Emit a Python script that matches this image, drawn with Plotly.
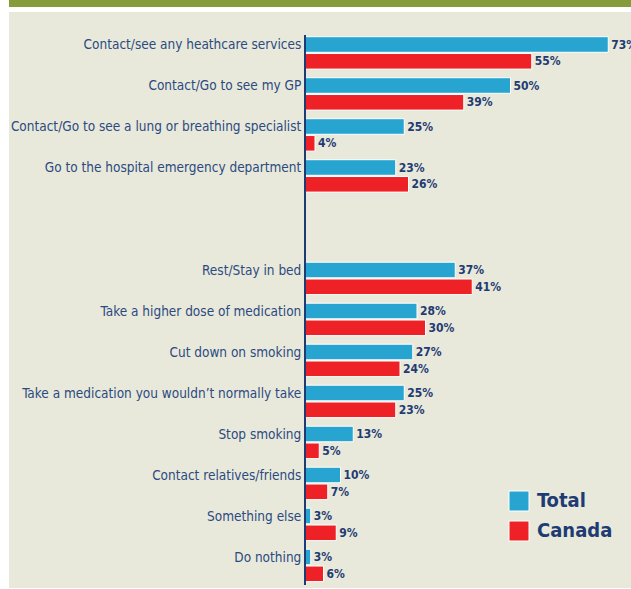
import plotly.graph_objects as go

categories = [
    "Contact/see any heathcare services",
    "Contact/Go to see my GP",
    "Contact/Go to see a lung or breathing specialist",
    "Go to the hospital emergency department",
    "Rest/Stay in bed",
    "Take a higher dose of medication",
    "Cut down on smoking",
    "Take a medication you wouldn\u2019t normally take",
    "Stop smoking",
    "Contact relatives/friends",
    "Something else",
    "Do nothing",
]
total = [73, 50, 25, 23, 37, 28, 27, 25, 13, 10, 3, 3]
canada = [55, 39, 4, 26, 41, 30, 24, 23, 5, 7, 9, 6]
series_names = ["Total", "Canada"]

# layout constants
W, H = 631, 589
ML, MR, MT, MB = 306, 0, 35, 4
GROUP_GAP = 1.5  # extra empty slots between the two groups
positions = [i if i < 4 else i + GROUP_GAP for i in range(len(categories))]

BLUE = "#27a4cf"
RED = "#ee2226"
NAVY = "#1f3b73"
LABEL = "#2c4a82"
BEIGE = "#e8e9da"
GREEN = "#869b3b"
FONT = "Liberation Sans Narrow, DejaVu Sans Condensed, sans-serif"

plot_h = H - MT - MB
plot_w = W - ML - MR
px_per_slot = 41.0
first_center = 44.5
y_top = (MT - first_center) / px_per_slot
y_bot = y_top + plot_h / px_per_slot

x_zero_px = 298.0
px_per_pct = 4.25
x_min = (ML - x_zero_px) / px_per_pct
x_max = x_min + plot_w / px_per_pct

BAR_W = 0.38
OFF = 0.41

def fmt(v):
    return f"{v}%"

fig = go.Figure()
fig.add_trace(go.Bar(
    name=series_names[0], y=positions, x=total, orientation="h",
    width=BAR_W, offset=-BAR_W / 2,
    marker=dict(color=BLUE, line=dict(color="white", width=1)),
    text=[fmt(v) for v in total], textposition="outside",
    textfont=dict(family=FONT, size=12, color=NAVY, weight="bold"),
    cliponaxis=False, constraintext="none", showlegend=False,
))
fig.add_trace(go.Bar(
    name=series_names[1], y=positions, x=canada, orientation="h",
    width=BAR_W, offset=OFF - BAR_W / 2,
    marker=dict(color=RED, line=dict(color="white", width=1)),
    text=[fmt(v) for v in canada], textposition="outside",
    textfont=dict(family=FONT, size=12, color=NAVY, weight="bold"),
    cliponaxis=False, constraintext="none", showlegend=False,
))

def px_x(p):
    return (p - ML) / plot_w

def px_y(p):
    return (H - MB - p) / plot_h

shapes = [
    dict(type="rect", xref="paper", yref="paper", x0=px_x(0), x1=px_x(9), y0=px_y(H), y1=px_y(0),
         fillcolor="white", line=dict(width=0), layer="below"),
    dict(type="rect", xref="paper", yref="paper", x0=px_x(0), x1=px_x(W), y0=px_y(12), y1=px_y(0),
         fillcolor="white", line=dict(width=0), layer="below"),
    dict(type="rect", xref="paper", yref="paper", x0=px_x(9), x1=px_x(W), y0=px_y(7), y1=px_y(0),
         fillcolor=GREEN, line=dict(width=0), layer="below"),
    dict(type="rect", xref="paper", yref="paper", x0=px_x(0), x1=px_x(W), y0=px_y(H), y1=px_y(588),
         fillcolor="white", line=dict(width=0), layer="below"),
]
annotations = []
legend_items = [(series_names[0], BLUE, 491), (series_names[1], RED, 521)]
for name, col, top in legend_items:
    shapes.append(dict(type="rect", xref="paper", yref="paper",
                       x0=px_x(509), x1=px_x(529), y0=px_y(top + 20), y1=px_y(top),
                       fillcolor=col, line=dict(color="white", width=1)))
    annotations.append(dict(xref="paper", yref="paper", x=px_x(535), y=px_y(top + 9),
                            text=name, showarrow=False, xanchor="left", yanchor="middle",
                            font=dict(family=FONT, size=20, color=NAVY, weight="bold")))

fig.update_layout(
    width=W, height=H,
    margin=dict(l=ML, r=MR, t=MT, b=MB, pad=0, autoexpand=False),
    paper_bgcolor=BEIGE, plot_bgcolor=BEIGE,
    barmode="overlay",
    shapes=shapes, annotations=annotations,
    xaxis=dict(range=[x_min, x_max], visible=False, showgrid=False, zeroline=False,
               fixedrange=True, automargin=False),
    yaxis=dict(range=[y_bot, y_top], tickvals=positions, ticktext=categories, automargin=False,
               showgrid=False, zeroline=False, showline=True, linecolor=NAVY, linewidth=2,
               ticks="", tickfont=dict(family=FONT, size=13.5, color=LABEL), fixedrange=True),
    showlegend=False,
)

fig.write_html("out.html")
